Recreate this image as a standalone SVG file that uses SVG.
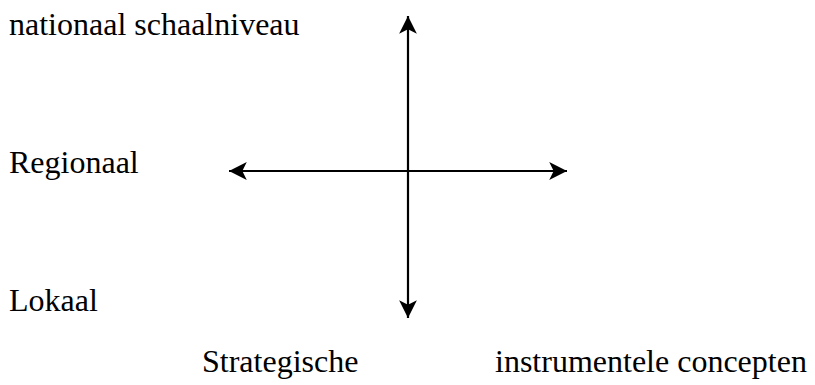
<svg xmlns="http://www.w3.org/2000/svg" width="815" height="385" viewBox="0 0 815 385">
<style>
.ax{stroke:#000;stroke-width:2.2;fill:none}
</style>
<defs>
<marker id="ah" markerUnits="userSpaceOnUse" markerWidth="20" markerHeight="20" viewBox="-17 -9 18 18" refX="0" refY="0" orient="auto-start-reverse">
<path d="M0,0 L-16,-8 L-12,0 L-16,8 Z" fill="#000"/>
</marker>
</defs>
<rect width="815" height="385" fill="#fff"/>
<g id="connectors">
<line class="ax" x1="408" y1="318" x2="408" y2="16" marker-start="url(#ah)" marker-end="url(#ah)"/>
<line class="ax" x1="229" y1="171" x2="567" y2="171" marker-start="url(#ah)" marker-end="url(#ah)"/>
</g>
<g font-family="Liberation Serif" font-size="32" fill="#000">
<g id="label-nationaal"><text x="9" y="35">nationaal schaalniveau</text></g>
<g id="label-regionaal"><text x="9" y="173">Regionaal</text></g>
<g id="label-lokaal"><text x="9" y="311">Lokaal</text></g>
<g id="label-strategische"><text x="202" y="372">Strategische</text></g>
<g id="label-instrumentele"><text x="495" y="372">instrumentele concepten</text></g>
</g>
</svg>
